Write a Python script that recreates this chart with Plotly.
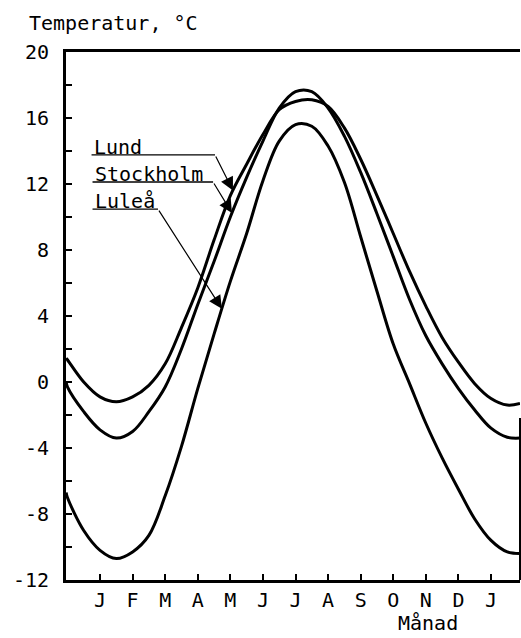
import numpy as np
import plotly.graph_objects as go

# Month positions (J = 1 ... J = 13) at half-month steps, plus plot edges
month_pos = [-0.04, 0.0, 0.5, 1.0, 1.5, 2.0, 2.5, 3.0, 3.5, 4.0, 4.5, 5.0, 5.5, 6.0, 6.5,
             7.0, 7.5, 8.0, 8.5, 9.0, 9.5, 10.0, 10.5, 11.0, 11.5, 12.0, 12.5, 13.0, 13.5, 13.89]

lund = [1.45, 1.35, 0.0, -0.9, -1.2, -0.9, -0.2, 1.1, 3.3, 5.7, 8.6, 11.3, 13.2, 15.0, 16.5,
        17.0, 17.1, 16.7, 15.4, 13.5, 11.3, 9.0, 6.7, 4.6, 2.7, 1.2, -0.1, -1.0, -1.4, -1.3]

stockholm = [0.0, -0.3, -1.8, -2.9, -3.4, -3.0, -1.8, -0.3, 2.0, 4.7, 7.3, 10.0, 12.4, 14.6, 16.6,
             17.6, 17.6, 16.6, 14.9, 12.7, 10.2, 7.6, 5.0, 2.8, 1.1, -0.4, -1.7, -2.8, -3.35, -3.4]

lulea = [-6.7, -7.0, -9.0, -10.2, -10.7, -10.3, -9.3, -6.9, -3.9, -0.4, 2.9, 6.1, 9.0, 12.2, 14.6,
         15.6, 15.5, 14.3, 12.1, 8.8, 5.5, 2.3, -0.1, -2.5, -4.6, -6.5, -8.3, -9.6, -10.3, -10.4]

month_ticks = [1, 2, 3, 4, 5, 6, 7, 8, 9, 10, 11, 12, 13]
month_labels = ["J", "F", "M", "A", "M", "J", "J", "A", "S", "O", "N", "D", "J"]

temp_ticks = [-12, -8, -4, 0, 4, 8, 12, 16, 20]
temp_labels = ["-12", "-8", "-4", "0", "4", "8", "12", "16", "20"]

series_names = ["Lund", "Stockholm", "Luleå"]
series_values = [lund, stockholm, lulea]

# label placement (month, temperature) and arrow targets (month on curve)
label_x = [0.76, 0.79, 0.79]
label_y = [14.25, 12.6, 11.0]
underline_y = [13.76, 12.12, 10.48]
underline_end = [4.53, 4.47, 2.78]
arrow_tip_x = [5.08, 5.05, 4.74]

FONT = "DejaVu Sans Mono"

fig = go.Figure()
for name, vals in zip(series_names, series_values):
    fig.add_trace(go.Scatter(x=month_pos, y=vals, mode="lines", name=name,
                             line=dict(color="black", width=3, shape="spline", smoothing=1.0),
                             showlegend=False, hoverinfo="skip"))

annotations = []
shapes = []
for i, name in enumerate(series_names):
    annotations.append(dict(x=label_x[i], y=label_y[i], xref="x", yref="y", text=name,
                            showarrow=False, xanchor="left", yanchor="middle",
                            font=dict(family=FONT, size=20, color="black")))
    shapes.append(dict(type="line", xref="x", yref="y", x0=label_x[i] - 0.02, x1=underline_end[i],
                       y0=underline_y[i], y1=underline_y[i], line=dict(color="black", width=1.3)))
    tip_y = float(np.interp(arrow_tip_x[i], month_pos, series_values[i]))
    annotations.append(dict(x=arrow_tip_x[i], y=tip_y, xref="x", yref="y",
                            ax=underline_end[i], ay=underline_y[i], axref="x", ayref="y",
                            text="", showarrow=True, arrowhead=2, arrowsize=2.2,
                            arrowwidth=1.2, arrowcolor="black", standoff=0))

annotations.append(dict(x=-0.086, y=1.055, xref="paper", yref="paper", text="Temperatur, °C",
                        showarrow=False, xanchor="left", yanchor="middle",
                        font=dict(family=FONT, size=20, color="black")))
annotations.append(dict(x=0.797, y=-0.082, xref="paper", yref="paper", text="Månad",
                        showarrow=False, xanchor="center", yanchor="middle",
                        font=dict(family=FONT, size=20, color="black")))

# partial right frame edge as in the original
shapes.append(dict(type="line", xref="paper", yref="paper", x0=1, x1=1, y0=0, y1=0.307,
                   line=dict(color="black", width=2)))

fig.update_layout(
    width=521, height=638,
    margin=dict(l=66, r=1, t=52, b=58),
    paper_bgcolor="white", plot_bgcolor="white",
    font=dict(family=FONT, size=20, color="black"),
    annotations=annotations, shapes=shapes,
    xaxis=dict(range=[-0.044, 13.89], tickmode="array", tickvals=month_ticks, ticktext=month_labels,
               ticks="inside", ticklen=6, tickwidth=2, tickcolor="black",
               showline=True, linewidth=3, linecolor="black", mirror=True,
               showgrid=False, zeroline=False, ticklabelstandoff=0,
               tickfont=dict(family=FONT, size=20, color="black")),
    yaxis=dict(range=[-12, 20], tickmode="array", tickvals=temp_ticks, ticktext=temp_labels,
               ticks="inside", ticklen=6, tickwidth=2, tickcolor="black",
               minor=dict(tickmode="linear", tick0=0, dtick=2, ticks="inside", ticklen=6,
                          tickwidth=2, tickcolor="black"),
               showline=True, linewidth=3, linecolor="black", mirror=False,
               showgrid=False, zeroline=False, ticklabelstandoff=10,
               tickfont=dict(family=FONT, size=20, color="black")),
)

fig.write_html("out.html", config={"displayModeBar": False},
               post_script="document.body.style.margin='0';document.body.style.overflow='hidden';")
